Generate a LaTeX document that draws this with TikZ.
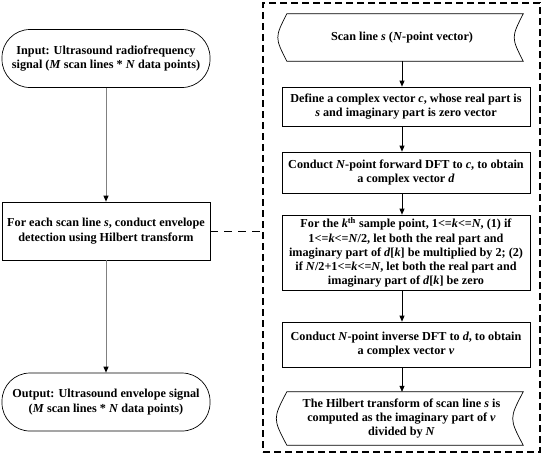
\documentclass[tikz,border=0pt]{standalone}
\usepackage{fontspec}
\setmainfont{Liberation Serif}
\usetikzlibrary{arrows.meta}
\begin{document}
\begin{tikzpicture}[x=1pt,y=-1pt,
  font=\fontsize{12.2}{14.3}\selectfont\bfseries,
  box/.style={draw, line width=0.7pt, align=center, inner sep=0pt},
  term/.style={box, rounded corners=28pt},
  sdata/.style={align=center, inner sep=0pt},
  arr/.style={line width=0.7pt, -{Triangle[length=6pt,width=5pt]}},
  garr/.style={line width=0.9pt, draw=black!50, -{Triangle[length=6pt,width=5pt,color=black]}},
  frame/.style={draw, line width=1.3pt, dash pattern=on 7pt off 4pt, inner sep=0pt}
]
\useasboundingbox (0,0) rectangle (545,459);
\newcommand{\sdshape}[2]{%
  \draw[line width=0.7pt] ([xshift=#2]#1.north west) -- (#1.north east)
    .. controls ([xshift=-2*#2]#1.east) .. (#1.south east)
    -- ([xshift=#2]#1.south west)
    .. controls ([xshift=-#2]#1.west) .. cycle;}

% left column
\node[term, minimum width=208pt, minimum height=58pt] (in) at (106,58.5)
  {Input: Ultrasound radiofrequency\\ signal (\textit{M} scan lines * \textit{N} data points)};
\node[box, minimum width=208pt, minimum height=58pt] (each) at (106,231)
  {For each scan line \textit{s}, conduct envelope\\ detection using Hilbert transform};
\node[term, minimum width=208pt, minimum height=58pt] (out) at (106,402)
  {Output: Ultrasound envelope signal\\ (\textit{M} scan lines * \textit{N} data points)};

% frame
\node[frame, minimum width=277pt, minimum height=449pt] (fr) at (401.5,227.5) {};

% right column
\node[sdata, minimum width=242pt, minimum height=47pt] (s1) at (402,37.5)
  {Scan line \textit{s} (\textit{N}-point vector)};
\sdshape{s1}{6pt}
\node[box, minimum width=248pt, minimum height=39pt] (b2) at (406,106.5)
  {Define a complex vector \textit{c}, whose real part is\\ \textit{s} and imaginary part is zero vector};
\node[box, minimum width=248pt, minimum height=41pt] (b3) at (406,172.5)
  {Conduct \textit{N}-point forward DFT to \textit{c}, to obtain\\ a complex vector \textit{d}};
\node[box, minimum width=248pt, minimum height=75pt] (b4) at (406,252.5)
  {For the \textit{k}\textsuperscript{th} sample point, 1<=\textit{k}<=\textit{N}, (1) if\\
   1<=\textit{k}<=\textit{N}/2, let both the real part and\\
   imaginary part of \textit{d}[\textit{k}] be multiplied by 2; (2)\\
   if \textit{N}/2+1<=\textit{k}<=\textit{N}, let both the real part and\\
   imaginary part of \textit{d}[\textit{k}] be zero};
\node[box, minimum width=248pt, minimum height=45pt] (b5) at (406,344.5)
  {Conduct \textit{N}-point inverse DFT to \textit{d}, to obtain\\ a complex vector \textit{v}};
\node[sdata, minimum width=243pt, minimum height=53pt] (b6) at (401.5,418.5)
  {The Hilbert transform of scan line \textit{s} is\\ computed as the imaginary part of \textit{v}\\ divided by \textit{N}};
\sdshape{b6}{7pt}

% connectors
\draw[garr] (in.south) -- (each.north);
\draw[garr] (each.south) -- (out.north);
\draw[line width=0.9pt, dash pattern=on 8pt off 6pt] (each.east) -- (fr.west |- each.east);
\draw[arr] (s1.south) -- (s1.south |- b2.north);
\draw[arr] (s1.south |- b2.south) -- (s1.south |- b3.north);
\draw[arr] (s1.south |- b3.south) -- (s1.south |- b4.north);
\draw[arr] (s1.south |- b4.south) -- (s1.south |- b5.north);
\draw[arr] (s1.south |- b5.south) -- (s1.south |- b6.north);
\end{tikzpicture}
\end{document}
